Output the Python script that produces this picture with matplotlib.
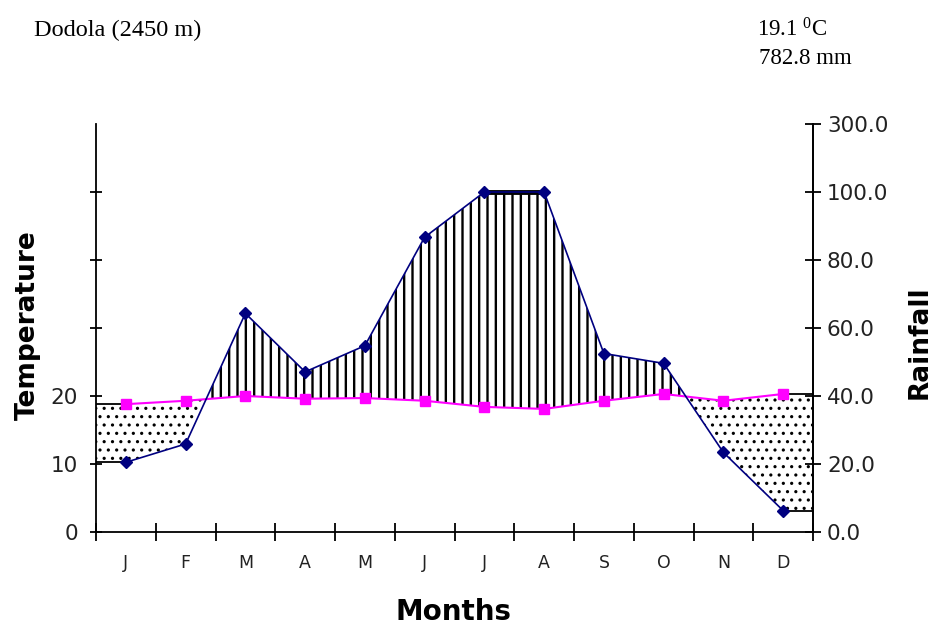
import numpy as np
import matplotlib
matplotlib.use("Agg")
import matplotlib.pyplot as plt

plt.rcParams['font.family'] = ['DejaVu Sans']
plt.rcParams['mathtext.fontset'] = 'custom'
plt.rcParams['mathtext.rm'] = 'Liberation Serif'
plt.rcParams['mathtext.it'] = 'Liberation Serif:italic'

# ---- data ----
months = ['J', 'F', 'M', 'A', 'M', 'J', 'J', 'A', 'S', 'O', 'N', 'D']
temperature = [18.8, 19.3, 20.0, 19.6, 19.7, 19.3, 18.4, 18.1, 19.3, 20.3, 19.3, 20.3]
rainfall = [20.5, 25.9, 64.3, 47.1, 54.8, 86.7, 100.0, 100.0, 52.5, 49.6, 23.4, 6.3]
temp_ticks = [0, 10, 20, 30, 40, 50]
temp_ticklabels = ['0', '10', '20', '', '', '']
rain_ticks = [0, 20, 40, 60, 80, 100, 300]
station = 'Dodola (2450 m)'
mean_temp_text = '19.1 $^{0}$C'
total_rain_text = '782.8 mm'


def rain_to_y(r):
    r = np.asarray(r, dtype=float)
    return np.where(r <= 100, r / 2.0, 50 + (r - 100) / 20.0)


W, H = 935, 626
fig = plt.figure(figsize=(W / 100, H / 100), dpi=100)
ax = fig.add_axes([96 / W, 1 - 532 / H, (813 - 96) / W, (532 - 124) / H])

x = np.arange(len(months))
t = np.array(temperature)
r = rain_to_y(rainfall)

x_ext = np.concatenate([[-0.5], x, [len(months) - 0.5]])
t_ext = np.concatenate([[t[0]], t, [t[-1]]])
r_ext = np.concatenate([[r[0]], r, [r[-1]]])

# humid (vertical lines) area
plt.rcParams['hatch.linewidth'] = 1.7
ax.fill_between(x_ext, t_ext, r_ext, where=r_ext >= t_ext, interpolate=True,
                facecolor='none', edgecolor='black', hatch='||', linewidth=0, zorder=1)
# arid (stipple) area
plt.rcParams['hatch.linewidth'] = 1.1
ax.fill_between(x_ext, t_ext, r_ext, where=r_ext <= t_ext, interpolate=True,
                facecolor='none', edgecolor='black', hatch='..', linewidth=0, zorder=1)

# extension segments to the axes
for xs, ys in [(x_ext[:2], t_ext[:2]), (x_ext[:2], r_ext[:2]),
               (x_ext[-2:], t_ext[-2:]), (x_ext[-2:], r_ext[-2:])]:
    ax.plot(xs, ys, color='black', lw=1.3, zorder=3)

# cap at 100 mm
rain_arr = np.array(rainfall)
for i in range(len(months) - 1):
    if rain_arr[i] >= 100 and rain_arr[i + 1] >= 100:
        ax.plot(x[i:i + 2], r[i:i + 2], color='black', lw=3.5, zorder=4,
                solid_capstyle='butt')

ax.plot(x, t, color='#FF00FF', lw=1.5, marker='s', markersize=6.5,
        markerfacecolor='#FF00FF', markeredgecolor='#FF00FF', zorder=5)
ax.plot(x, r, color='#000080', lw=1.2, marker='D', markersize=6.5,
        markerfacecolor='#000080', markeredgecolor='#000080', zorder=6)

ax.set_xlim(-0.5, len(months) - 0.5)
ax.set_ylim(0, 60)

ax.spines['top'].set_visible(False)
for s in ['left', 'bottom', 'right']:
    ax.spines[s].set_linewidth(1.3)

ax.set_yticks(temp_ticks)
ax.set_yticklabels(temp_ticklabels)
ax.tick_params(axis='y', direction='inout', length=8, width=1.3, pad=9,
               labelsize=15.5, colors='black', labelcolor='#222222')

ax.set_xticks(x)
ax.set_xticklabels(months)
ax.set_xticks(np.arange(-0.5, len(months), 1.0), minor=True)
ax.tick_params(axis='x', which='major', length=0, pad=16, labelsize=12.5,
               labelcolor='#222222')
ax.tick_params(axis='x', which='minor', direction='inout', length=13, width=1.3)

ax2 = ax.twinx()
ax2.set_ylim(0, 60)
ax2.set_yticks(rain_to_y(rain_ticks))
ax2.set_yticklabels(['%.1f' % v for v in rain_ticks])
ax2.tick_params(axis='y', direction='inout', length=12, width=1.3, pad=4,
                labelsize=15.5, labelcolor='#222222')
for s in ['top', 'left', 'bottom']:
    ax2.spines[s].set_visible(False)
ax2.spines['right'].set_linewidth(1.3)

fig.text(28 / W, 1 - 325 / H, 'Temperature', rotation=90, ha='center', va='center',
         fontsize=19, fontweight='bold')
fig.text(920 / W, 1 - 342 / H, 'Rainfall', rotation=90, ha='center', va='center',
         fontsize=19, fontweight='bold')
fig.text(453 / W, 1 - 612 / H, 'Months', ha='center', va='center',
         fontsize=20, fontweight='bold')

serif = ['Liberation Serif', 'DejaVu Serif']
fig.text(34 / W, 1 - 30 / H, station, ha='left', va='center', fontsize=17.5,
         family=serif)
fig.text(757 / W, 1 - 30 / H, mean_temp_text, ha='left', va='center', fontsize=16.5,
         family=serif)
fig.text(759 / W, 1 - 58 / H, total_rain_text, ha='left', va='center', fontsize=16.5,
         family=serif)

fig.savefig('out.png', dpi=100)
